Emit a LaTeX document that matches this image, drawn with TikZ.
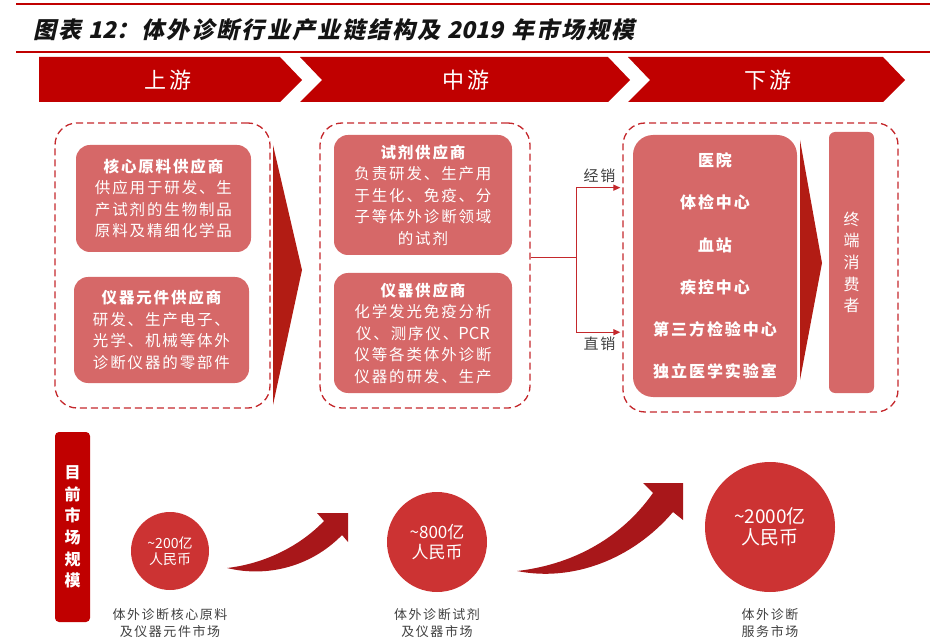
\documentclass[tikz,border=0pt]{standalone}
\usepackage{fontspec}
\setmainfont{Noto Sans CJK SC}[LetterSpace=12]
\newfontfamily\plainfont{Noto Sans CJK SC}
\newfontfamily\titlefont{Noto Sans CJK SC}[FakeSlant=0.22, LetterSpace=9]
\usepackage{tikz}
\usetikzlibrary{arrows.meta, positioning, calc}
\definecolor{bandred}{RGB}{192, 0, 0}
\definecolor{framered}{RGB}{196, 40, 44}
\definecolor{cardred}{RGB}{214, 104, 104}
\definecolor{wedgered}{RGB}{178, 28, 20}
\definecolor{bubblered}{RGB}{204, 51, 51}
\definecolor{arrowred}{RGB}{168, 23, 26}
\definecolor{notegray}{RGB}{64, 64, 64}
\definecolor{inkgray}{RGB}{20, 20, 20}

\begin{document}
\begin{tikzpicture}[x=1pt, y=-1pt,
    dashbox/.style={
      rectangle, draw=framered, dash pattern=on 7pt off 4pt,
      line width=1.3pt, rounded corners=22pt, inner sep=0pt
    },
    card/.style={
      rectangle, fill=cardred, text=white, rounded corners=14pt,
      inner sep=0pt, align=center, font=\fontsize{15.5}{21.5}\selectfont
    },
    band/.style={fill=bandred},
    bandtext/.style={text=white, font=\fontsize{22}{24}\selectfont},
    wedge/.style={fill=wedgered},
    bubble/.style={circle, fill=bubblered, text=white, inner sep=0pt, align=center},
    note/.style={text=notegray, align=center, font=\fontsize{13}{17}\selectfont},
    link/.style={draw=framered, line width=1.2pt},
    tip/.style={link, -{Triangle[length=7pt, width=6pt]}, shorten >=2pt},
    swoosh/.style={fill=arrowred}
]
  \useasboundingbox (0,0) rectangle (932,644);

  % title
  \draw[bandred, line width=1.5pt] (16,4) -- (930,4);
  \draw[bandred, line width=1.5pt] (16,52) -- (930,52);
  \node[anchor=base west, inner sep=0pt, text=inkgray,
        font=\titlefont\bfseries\fontsize{23}{25}\selectfont] (title) at (33,38.5)
    {图表 {\addfontfeature{LetterSpace=0}12}：体外诊断行业产业链结构及 {\addfontfeature{LetterSpace=0}2019} 年市场规模};

  % banner
  \fill[band] (39,57) -- (280,57) -- (302,80) -- (280,102) -- (39,102) -- cycle;
  \fill[band] (300,57) -- (608,57) -- (630,80) -- (608,102) -- (300,102) -- (322,80) -- cycle;
  \fill[band] (628,57) -- (883,57) -- (905,80) -- (883,102) -- (628,102) -- (650,80) -- cycle;
  \node[bandtext] (upT)   at (168,80) {上游};
  \node[bandtext] (midT)  at (466,80) {中游};
  \node[bandtext] (downT) at (768,80) {下游};

  % upstream
  \node[dashbox, minimum width=215pt, minimum height=285pt] (up) at (162.5,265.5) {};
  \node[card, minimum width=175pt, minimum height=107pt] (raw) at (163.5,198.5)
    {{\bfseries 核心原料供应商}\\供应用于研发、生\\产试剂的生物制品\\原料及精细化学品};
  \node[card, minimum width=175pt, minimum height=106pt] (parts) at (161.5,330)
    {{\bfseries 仪器元件供应商}\\研发、生产电子、\\光学、机械等体外\\诊断仪器的零部件};
  \fill[wedge] (273,145) -- (302,270) -- (273,405) -- cycle;

  % midstream
  \node[dashbox, minimum width=210pt, minimum height=285pt] (mid) at (425,265.5) {};
  \node[card, minimum width=178pt, minimum height=120pt] (reagent) at (423,195)
    {{\bfseries 试剂供应商}\\负责研发、生产用\\于生化、免疫、分\\子等体外诊断领域\\的试剂};
  \node[card, minimum width=178pt, minimum height=120pt] (instr) at (423,333)
    {{\bfseries 仪器供应商}\\化学发光免疫分析\\仪、测序仪、{\plainfont\fontsize{16.5}{21.5}\selectfont PCR}\\仪等各类体外诊断\\仪器的研发、生产};

  % downstream
  \node[dashbox, minimum width=275pt, minimum height=289pt] (down) at (760.5,267.5) {};
  \node[card, rounded corners=20pt, minimum width=164pt, minimum height=262pt,
        font=\bfseries\fontsize{16}{42.2}\selectfont] (users) at (715,266)
    {医院\\体检中心\\血站\\疾控中心\\第三方检验中心\\独立医学实验室};
  \fill[wedge] (800,140) -- (822,263) -- (800,380) -- cycle;
  \node[card, rounded corners=6pt, minimum width=45pt, minimum height=261pt,
        font=\fontsize{16}{21.7}\selectfont] (consumer) at (851.5,262.5)
    {终\\端\\消\\费\\者};

  % channels
  \draw[link] ([yshift=8pt]mid.east) -- ++(46,0) coordinate (fork);
  \draw[tip] (fork) |- ($(down.north west)!0.225!(down.south west)$)
    node[pos=0.75, above=1pt, text=notegray, font=\fontsize{15}{16}\selectfont] {经销};
  \draw[tip] (fork) |- ($(down.north west)!0.723!(down.south west)$)
    node[pos=0.75, below=1pt, text=notegray, font=\fontsize{15}{16}\selectfont] {直销};

  % market size
  \node[rectangle, fill=bandred, rounded corners=4pt, minimum width=35pt, minimum height=190pt,
        inner sep=0pt, align=center, text=white,
        font=\bfseries\fontsize{16}{21.7}\selectfont] (scale) at (72.5,527)
    {目\\前\\市\\场\\规\\模};

  \node[bubble, minimum size=78pt, font=\plainfont\fontsize{14}{15.5}\selectfont] (m200) at (170,551)
    {\textasciitilde200亿\\人民币};
  \node[bubble, minimum size=100pt, font=\plainfont\fontsize{17}{20}\selectfont] (m800) at (437,542)
    {\textasciitilde800亿\\人民币};
  \node[bubble, minimum size=130pt, font=\plainfont\fontsize{19}{21}\selectfont] (m2000) at (770,527)
    {\textasciitilde2000亿\\人民币};

  \node[note] (m200L)  at (170,623.5) {体外诊断核心原料\\及仪器元件市场};
  \node[note] (m800L)  at (437,623.5) {体外诊断试剂\\及仪器市场};
  \node[note] (m2000L) at (770,623.5) {体外诊断\\服务市场};

  \fill[swoosh] (227,568) .. controls (262,564) and (298,548) .. (324,521)
    -- (317,513) -- (348,513) -- (348,542) -- (342,535)
    .. controls (312,566) and (268,578) .. cycle;
  \fill[swoosh] (517,571) .. controls (570,565) and (620,540) .. (653,493)
    -- (643,483) -- (683,483) -- (683,520) -- (673,512)
    .. controls (632,560) and (572,582) .. cycle;
\end{tikzpicture}
\end{document}
